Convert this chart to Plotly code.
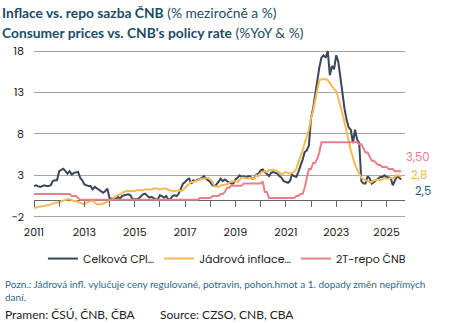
import pandas as pd
import plotly.graph_objects as go

months = pd.date_range("2011-01-01", "2025-08-01", freq="MS")

cpi = [
    1.7, 1.8, 1.7, 1.6, 1.7, 1.8, 1.7, 1.7, 1.8, 2.3, 2.4, 2.4,
    3.5, 3.7, 3.8, 3.5, 3.2, 3.5, 3.1, 3.3, 3.4, 3.4, 2.7, 2.4,
    1.9, 1.8, 1.7, 1.7, 1.3, 1.6, 1.4, 1.3, 1.0, 0.9, 1.1, 1.4,
    0.2, 0.2, 0.2, 0.1, 0.4, 0.2, 0.5, 0.6, 0.7, 0.7, 0.6, 0.1,
    0.1, 0.1, 0.2, 0.5, 0.7, 0.8, 0.5, 0.3, 0.4, 0.2, 0.1, 0.1,
    0.6, 0.5, 0.3, 0.5, 0.1, 0.1, 0.5, 0.6, 0.5, 0.8, 1.5, 2.0,
    2.2, 2.5, 2.6, 2.0, 2.4, 2.3, 2.5, 2.5, 2.7, 2.9, 2.6, 2.4,
    2.2, 1.8, 1.7, 1.9, 2.2, 2.6, 2.3, 2.5, 2.3, 2.2, 2.0, 2.0,
    2.5, 2.7, 3.0, 2.8, 2.9, 2.7, 2.9, 2.9, 2.6, 2.7, 3.1, 3.2,
    3.6, 3.7, 3.4, 3.2, 2.9, 3.3, 3.4, 3.3, 3.2, 2.9, 2.7, 2.3,
    2.2, 2.1, 2.3, 3.1, 2.9, 2.8, 3.4, 4.1, 4.9, 5.8, 6.0, 6.6,
    9.9, 11.1, 12.7, 14.2, 16.0, 17.2, 17.5, 17.2, 18.0, 15.1, 16.2, 15.8,
    17.5, 16.7, 15.0, 12.7, 11.1, 9.7, 8.8, 8.5, 6.9, 8.5, 7.3, 6.9,
    2.3, 2.0, 2.0, 2.9, 2.6, 2.0, 2.2, 2.4, 2.6, 2.8, 2.8, 3.0,
    2.8, 2.7, 2.7, 1.8, 2.4, 2.9, 2.7, 2.5,
]

core = [
    -0.9, -0.9, -0.8, -0.8, -0.7, -0.7, -0.6, -0.6, -0.5, -0.4, -0.3, -0.3,
    -0.2, -0.1, -0.1, 0.0, 0.1, 0.1, 0.0, -0.1, -0.1, -0.2, -0.3, -0.4,
    -0.5, -0.3, -0.2, -0.1, 0.0, -0.3, -0.5, -0.5, -0.5, -0.4, -0.3, -0.2,
    0.0, 0.1, 0.3, 0.5, 0.6, 0.7, 0.9, 1.0, 1.1, 1.1, 1.1, 1.1,
    1.1, 1.2, 1.2, 1.2, 1.2, 1.3, 1.3, 1.3, 1.3, 1.4, 1.4, 1.4,
    1.3, 1.4, 1.4, 1.4, 1.2, 1.2, 1.1, 1.1, 1.2, 1.2, 1.1, 1.2,
    1.5, 1.8, 2.0, 2.2, 2.2, 2.3, 2.4, 2.5, 2.6, 2.6, 2.7, 2.7,
    2.5, 2.2, 1.7, 1.6, 1.6, 1.8, 1.8, 1.9, 1.9, 2.1, 2.3, 2.3,
    2.3, 2.2, 2.5, 2.7, 2.7, 2.6, 2.6, 2.7, 2.6, 2.6, 3.0, 2.9,
    3.3, 3.4, 3.5, 3.4, 3.6, 3.6, 3.7, 3.6, 3.5, 3.3, 3.1, 3.3,
    3.4, 3.3, 3.2, 3.3, 3.4, 3.8, 4.5, 5.2, 6.0, 6.9, 7.6, 8.5,
    9.9, 10.8, 12.0, 13.2, 14.5, 14.6, 14.6, 14.6, 14.5, 14.1, 13.7, 13.4,
    13.2, 12.3, 11.5, 10.5, 9.4, 8.4, 7.2, 6.0, 5.1, 4.3, 3.7, 3.2,
    2.7, 2.5, 2.4, 2.3, 2.2, 2.2, 2.4, 2.4, 2.5, 2.4, 2.6, 2.7,
    2.6, 2.6, 2.7, 2.6, 2.8, 3.0, 3.0, 2.8,
]

repo = (
    [0.75] * 12
    + [0.75, 0.75, 0.75, 0.75, 0.75, 0.75, 0.5, 0.5, 0.5, 0.25, 0.05, 0.05]
    + [0.05] * 48
    + [0.05] * 7 + [0.25] * 5
    + [0.25, 0.5, 0.5, 0.5, 0.5, 0.75, 0.75, 1.0, 1.5, 1.5, 1.75, 1.75]
    + [1.75] * 4 + [2.0] * 8
    + [2.0, 2.25, 1.0, 1.0, 0.25, 0.25, 0.25, 0.25, 0.25, 0.25, 0.25, 0.25]
    + [0.25, 0.25, 0.25, 0.25, 0.25, 0.5, 0.5, 0.75, 0.75, 1.5, 2.75, 3.75]
    + [3.75, 4.5, 4.5, 5.0, 5.75, 7.0, 7.0, 7.0, 7.0, 7.0, 7.0, 7.0]
    + [7.0] * 11 + [6.75]
    + [6.75, 6.25, 5.75, 5.75, 5.25, 4.75, 4.75, 4.5, 4.25, 4.25, 4.0, 4.0]
    + [4.0, 3.75, 3.75, 3.75, 3.5, 3.5, 3.5, 3.5]
)

names = ["Celková CPI…", "Jádrová inflace…", "2T-repo ČNB"]
colors = ["#3a4659", "#f5b955", "#e8808a"]
end_labels = ["2,5", "2,8", "3,50"]
label_colors = ["#2d5d78", "#f5b955", "#e8808a"]
year_ticks = [str(y) for y in range(2011, 2027, 2)]

YMIN, YMAX = -2.15, 18.25
TICKFONT = "Poppins, Inter, Open Sans, sans-serif"

fig = go.Figure()
series = [cpi, core, repo]
for i, vals in enumerate(series):
    fig.add_trace(go.Scatter(
        x=months, y=vals, mode="lines", name=names[i],
        line=dict(color=colors[i], width=2),
        xaxis="x2" if i == 2 else "x",
        cliponaxis=False,
    ))

# end-of-series labels
shifts = [(12, -12), (8, 2), (3, 14)]
for i, vals in enumerate(series):
    fig.add_annotation(
        x=months[-1], y=vals[-1], text=end_labels[i], showarrow=False,
        xanchor="left", yanchor="middle", xshift=shifts[i][0], yshift=shifts[i][1],
        font=dict(family=TICKFONT, size=11.5, color=label_colors[i]),
    )

zero_pos = (0 - YMIN) / (YMAX - YMIN)

fig.update_layout(
    width=454, height=323,
    margin=dict(l=34, r=49, t=49, b=105),
    paper_bgcolor="white", plot_bgcolor="white",
    showlegend=True,
    legend=dict(orientation="h", x=0.52, xanchor="center", y=-0.24, yanchor="middle",
                font=dict(family=TICKFONT, size=11, color="#222"),
                itemwidth=30, tracegroupgap=0),
    xaxis=dict(
        range=["2011-01-01", "2025-09-25"],
        tickvals=[f"{y}-01-01" for y in year_ticks], ticktext=year_ticks,
        showgrid=False, showline=False, ticks="", zeroline=False,
        tickfont=dict(family=TICKFONT, size=11, color="#222"),
        ticklabelstandoff=6,
    ),
    xaxis2=dict(
        matches="x", overlaying="x", anchor="free", position=zero_pos,
        side="bottom", dtick="M12", tick0="2011-01-01",
        showticklabels=False, ticks="outside", ticklen=6, tickcolor="#666", tickwidth=1,
        showgrid=False, showline=False, zeroline=False,
    ),
    yaxis=dict(
        range=[YMIN, YMAX], tick0=-2, dtick=5,
        showgrid=True, gridcolor="#a6a6a6", gridwidth=1,
        zeroline=True, zerolinecolor="#666", zerolinewidth=1,
        showline=False, ticks="",
        tickfont=dict(family=TICKFONT, size=11, color="#222"),
        ticklabelstandoff=9,
    ),
)

TITLEFONT = "Lato, Open Sans, sans-serif"
tcol = "#1d4c66"
fig.add_annotation(xref="paper", yref="paper", x=-34/371, y=1 + (49 - 12) / 169,
                   xanchor="left", yanchor="middle", showarrow=False,
                   text="<b>Inflace vs. repo sazba ČNB</b> (% meziročně a %)",
                   font=dict(family=TITLEFONT, size=13.8, color=tcol))
fig.add_annotation(xref="paper", yref="paper", x=-34/371, y=1 + (49 - 33) / 169,
                   xanchor="left", yanchor="middle", showarrow=False,
                   text="<b>Consumer prices vs. CNB's policy rate</b> (%YoY & %)",
                   font=dict(family=TITLEFONT, size=13.8, color=tcol))
fig.add_annotation(xref="paper", yref="paper", x=-31/371, y=1 - (290.5 - 49) / 169,
                   xanchor="left", yanchor="middle", showarrow=False, align="left",
                   text="Pozn.: Jádrová infl. vylučuje ceny regulované, potravin, pohon.hmot a 1. dopady změn nepřímých<br>daní.",
                   font=dict(family=TITLEFONT, size=10, color="#2e6888"))
fig.add_annotation(xref="paper", yref="paper", x=-31/371, y=1 - (314 - 49) / 169,
                   xanchor="left", yanchor="middle", showarrow=False,
                   text="Pramen: ČSÚ, ČNB, ČBA",
                   font=dict(family=TITLEFONT, size=12, color="#222"))
fig.add_annotation(xref="paper", yref="paper", x=(158 - 34) / 371, y=1 - (314 - 49) / 169,
                   xanchor="left", yanchor="middle", showarrow=False,
                   text="Source: CZSO, CNB, CBA",
                   font=dict(family=TITLEFONT, size=12, color="#222"))

fig.write_html("out.html")
